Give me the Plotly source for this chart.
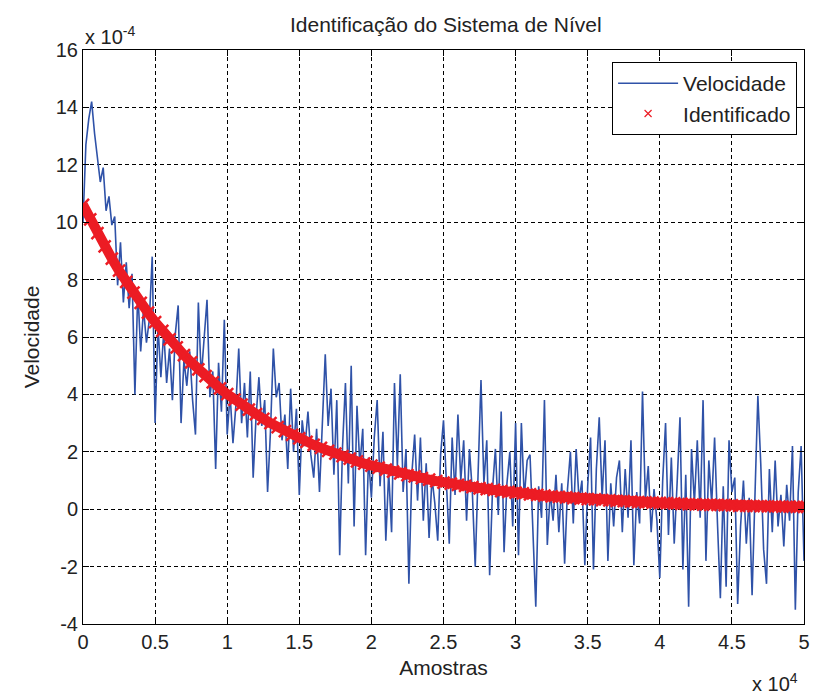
import plotly.graph_objects as go

# ---------------- data (values in units of 1e-4) ----------------
blue_step = 200  # samples between successive read values
velocidade = [
    # 0 .. 10000
    10.0, 12.7, 13.6, 14.2, 13.1, 12.3, 11.4, 11.9, 10.4, 10.9,
    9.9, 10.2, 7.8, 9.3, 7.2, 8.6, 7.0, 8.2, 4.0, 7.6,
    5.5, 7.0, 5.8, 6.6, 8.8, 3.0, 6.4, 4.6, 6.2, 4.4,
    5.6, 3.8, 6.1, 7.1, 3.0, 5.2, 4.3, 5.5, 3.8, 2.6,
    7.2, 4.6, 5.9, 7.3, 3.9, 4.8, 1.4, 5.1, 3.4, 6.6,
    2.6,
    # 10200 .. 17000
    4.0, 2.3, 3.6, 5.6, 3.0, 4.4, 2.5, 4.8, 1.1, 3.2,
    4.6, 2.9, 3.8, 0.6, 2.7, 5.6, 3.9, 4.4, 2.4, 3.3,
    1.4, 4.2, 2.0, 3.5, 0.5, 3.1, 2.2, 3.4, 1.9, 1.1,
    2.8, 0.6, 3.3, 5.4, 2.9,
    # 17200 .. 25200
    4.2, 1.2, 3.8, -1.6, 2.2, 4.4, 0.9, 5.0, -0.6, 3.6,
    1.5, 2.8, -1.6, 1.8, 0.4, 2.5, 3.8, 0.8, 2.7, -1.1,
    1.3, -0.8, 4.4, 1.5, 4.7, 0.6, 2.1, -2.6, 1.2, 2.6,
    0.3, 2.5, -0.4, 1.6, -1.0, 1.1, 0.2, -1.1, 1.9, 3.1,
    0.8,
    # 25400 .. 33600
    -1.2, 2.5, 0.5, 3.3, 1.0, 2.4, -0.4, 2.1, 0.6, -2.0,
    1.3, 4.5, 0.9, 2.4, -2.3, 0.7, 2.1, -0.2, 3.4, -1.5,
    0.9, 2.0, -0.6, 3.0, -1.6, 3.0, 0.4, 1.7, 1.9, -0.5,
    -3.4, 0.8, -0.3, 3.8, -1.25, 0.6, -0.4, 1.2, -0.8, 0.9,
    -1.9, 0.7,
    # 33800 .. 41800
    2.0, -0.5, 2.1, 0.3, 1.0, -1.95, 0.8, 2.5, -2.1, 1.4,
    3.2, 0.4, 2.4, -1.8, 0.9, -0.6, 1.1, 1.7, -0.8, 1.4,
    -0.3, 2.4, -1.95, 0.6, -0.5, 4.1, 0.3, 1.5, -0.8, 0.7,
    -0.4, -2.4, 1.0, 3.0, -0.9, 1.8, -1.2, 0.9, 3.2, -2.1,
    1.2,
    # 42000 .. 50000
    -3.4, 2.1, 0.2, 2.4, -0.3, 3.8, -1.8, 1.7, 0.2, 2.5,
    -0.5, -3.1, 0.8, -2.7, 2.4, 0.6, 1.1, -3.3, -0.6, 1.0,
    -1.2, 0.4, -3.0, 0.9, 3.95, 1.6, -1.4, -2.6, 1.4, -0.8,
    1.7, -0.6, 0.5, -1.3, 0.85, -0.4, 2.2, -3.5, 0.6, 2.2,
    -1.8,
]
amostras_vel = [i * blue_step for i in range(len(velocidade))]

red_step = 500
identificado = [
    10.60, 10.10, 9.62, 9.16, 8.73, 8.31, 7.92, 7.55, 7.19, 6.85,
    6.52, 6.21, 5.92, 5.64, 5.37, 5.12, 4.87, 4.64, 4.42, 4.21,
    4.01, 3.82, 3.64, 3.47, 3.31, 3.15, 3.00, 2.86, 2.72, 2.59,
    2.47, 2.35, 2.24, 2.14, 2.03, 1.94, 1.85, 1.76, 1.67, 1.59,
    1.52, 1.45, 1.38, 1.31, 1.25, 1.19, 1.14, 1.08, 1.03, 0.98,
    0.93, 0.89, 0.85, 0.81, 0.77, 0.73, 0.70, 0.67, 0.63, 0.60,
    0.58, 0.55, 0.52, 0.50, 0.47, 0.45, 0.43, 0.41, 0.39, 0.37,
    0.35, 0.34, 0.32, 0.31, 0.29, 0.28, 0.26, 0.25, 0.24, 0.23,
    0.22, 0.21, 0.20, 0.19, 0.18, 0.17, 0.16, 0.15, 0.15, 0.14,
    0.13, 0.12, 0.12, 0.11, 0.11, 0.10, 0.10, 0.09, 0.09, 0.08,
    0.08,
]
amostras_id = [i * red_step for i in range(len(identificado))]

x_ticks = [0, 5000, 10000, 15000, 20000, 25000, 30000, 35000, 40000, 45000, 50000]
x_tick_labels = ["0", "0.5", "1", "1.5", "2", "2.5", "3", "3.5", "4", "4.5", "5"]
y_ticks = [-4, -2, 0, 2, 4, 6, 8, 10, 12, 14, 16]
y_tick_labels = [str(v) for v in y_ticks]

BLUE = "#2F52A8"
RED = "#EC1C24"
FONT = "Liberation Sans, Arial, Helvetica, sans-serif"
TXT = "#222222"

fig = go.Figure()
fig.add_trace(go.Scatter(
    x=amostras_vel, y=velocidade, mode="lines", name="Velocidade",
    line=dict(color=BLUE, width=1.6),
))
# thick red band formed by the densely packed identified samples
fig.add_trace(go.Scatter(
    x=amostras_id, y=identificado, mode="lines", showlegend=False,
    line=dict(color=RED, width=10), hoverinfo="skip",
))
fig.add_trace(go.Scatter(
    x=amostras_id, y=identificado, mode="markers", showlegend=False,
    marker=dict(symbol="x-thin", size=12, color=RED, line=dict(color=RED, width=2.5)),
))
# legend entry (small thin red x, as in the reference legend)
fig.add_trace(go.Scatter(
    x=[None], y=[None], mode="markers", name="Identificado",
    marker=dict(symbol="x-thin", size=7, color=RED, line=dict(color=RED, width=1.2)),
))

axis_common = dict(
    showline=True, linecolor="black", linewidth=1, mirror="allticks",
    ticks="inside", ticklen=6, tickcolor="black", tickwidth=1,
    showgrid=True, gridcolor="black", gridwidth=1, griddash="4px,3px",
    zeroline=False, tickfont=dict(family=FONT, size=20, color=TXT),
)

fig.update_layout(
    width=821, height=696,
    margin=dict(l=83, r=11, t=50, b=72),
    paper_bgcolor="white", plot_bgcolor="white",
    font=dict(family=FONT, size=21, color=TXT),
    title=dict(text="Identificação do Sistema de Nível", x=0.543, xanchor="center",
               y=0.965, yanchor="middle", font=dict(family=FONT, size=21, color=TXT)),
    xaxis=dict(range=[0, 50000], tickvals=x_ticks, ticktext=x_tick_labels,
               title=dict(text="Amostras", font=dict(size=21), standoff=8), **axis_common),
    yaxis=dict(range=[-4, 16], tickvals=y_ticks, ticktext=y_tick_labels,
               title=dict(text="Velocidade", font=dict(size=21), standoff=10), **axis_common),
    legend=dict(x=0.9904, xanchor="right", y=0.979, yanchor="top",
                bgcolor="white", bordercolor="black", borderwidth=1,
                font=dict(family=FONT, size=21, color=TXT),
                itemwidth=60, tracegroupgap=0),
    showlegend=True,
    annotations=[
        dict(text="x 10<sup>-4</sup>", xref="paper", yref="paper", x=0, y=1,
             xanchor="left", yanchor="bottom", showarrow=False,
             font=dict(family=FONT, size=20, color=TXT), yshift=0),
        dict(text="x 10<sup>4</sup>", xref="paper", yref="paper", x=1, y=0,
             xanchor="right", yanchor="top", showarrow=False,
             font=dict(family=FONT, size=20, color=TXT), yshift=-44, xshift=-4),
    ],
)

fig.write_html("out.html")
